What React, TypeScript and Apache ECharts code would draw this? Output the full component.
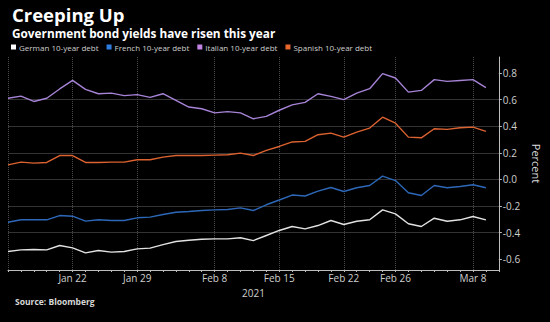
import React, { useEffect, useRef } from "react";
import * as echarts from "echarts";

const dates = [
  "2021-01-15", "2021-01-18", "2021-01-19", "2021-01-20", "2021-01-21", "2021-01-22",
  "2021-01-25", "2021-01-26", "2021-01-27", "2021-01-28", "2021-01-29",
  "2021-02-01", "2021-02-02", "2021-02-03", "2021-02-04", "2021-02-05",
  "2021-02-08", "2021-02-09", "2021-02-10", "2021-02-11", "2021-02-12",
  "2021-02-15", "2021-02-16", "2021-02-17", "2021-02-18", "2021-02-19",
  "2021-02-22", "2021-02-23", "2021-02-24", "2021-02-25", "2021-02-26",
  "2021-03-01", "2021-03-02", "2021-03-03", "2021-03-04", "2021-03-05",
  "2021-03-08", "2021-03-09", "2021-03-10",
];

const labelDates = ["2021-01-22", "2021-01-29", "2021-02-08", "2021-02-15", "2021-02-22", "2021-02-26", "2021-03-08"];
const gridDates = ["2021-01-15", ...labelDates];

const german = [
  -0.541, -0.529, -0.526, -0.529, -0.496, -0.514, -0.551, -0.534, -0.546, -0.541, -0.521,
  -0.516, -0.489, -0.466, -0.456, -0.449, -0.446, -0.446, -0.438, -0.459, -0.421,
  -0.383, -0.353, -0.371, -0.346, -0.308, -0.338, -0.314, -0.303, -0.228, -0.258,
  -0.333, -0.353, -0.291, -0.314, -0.303, -0.278, -0.303,
];
const french = [
  -0.321, -0.303, -0.303, -0.303, -0.271, -0.276, -0.313, -0.303, -0.308, -0.308, -0.288,
  -0.283, -0.263, -0.246, -0.241, -0.233, -0.228, -0.226, -0.213, -0.233, -0.19,
  -0.154, -0.117, -0.124, -0.088, -0.06, -0.09, -0.062, -0.045, 0.025, -0.008,
  -0.1, -0.12, -0.045, -0.062, -0.053, -0.04, -0.062,
];
const italian = [
  0.61, 0.626, 0.586, 0.61, 0.68, 0.744, 0.677, 0.644, 0.649, 0.63, 0.637,
  0.617, 0.644, 0.594, 0.544, 0.531, 0.5, 0.51, 0.5, 0.456, 0.474,
  0.52, 0.56, 0.579, 0.644, 0.624, 0.6, 0.649, 0.682, 0.795, 0.762,
  0.656, 0.669, 0.75, 0.737, 0.744, 0.75, 0.69,
];
const spanish = [
  0.11, 0.13, 0.123, 0.128, 0.18, 0.18, 0.128, 0.128, 0.13, 0.13, 0.148,
  0.148, 0.168, 0.18, 0.18, 0.18, 0.183, 0.186, 0.198, 0.18, 0.218,
  0.248, 0.282, 0.286, 0.336, 0.348, 0.318, 0.356, 0.386, 0.468, 0.423,
  0.318, 0.313, 0.381, 0.376, 0.389, 0.393, 0.361,
];

const yTicks = [-0.6, -0.4, -0.2, 0, 0.2, 0.4, 0.6, 0.8];
const monthNames = ["Jan", "Feb", "Mar", "Apr", "May", "Jun", "Jul", "Aug", "Sep", "Oct", "Nov", "Dec"];

const seriesDefs = [
  { name: "German 10-year debt", data: german, line: "#e2e2e2", icon: "#ffffff" },
  { name: "French 10-year debt", data: french, line: "#2d68b8", icon: "#2f7de0" },
  { name: "Italian 10-year debt", data: italian, line: "#a683d6", icon: "#c484e6" },
  { name: "Spanish 10-year debt", data: spanish, line: "#dc6230", icon: "#e8672c" },
];

const FONT = "Open Sans";

export default function App() {
  const ref = useRef<HTMLDivElement>(null);
  useEffect(() => {
    if (!ref.current) return;
    const chart = echarts.init(ref.current, null, { renderer: "svg" });
    chart.setOption({
      animation: false,
      backgroundColor: "#000000",
      textStyle: { fontFamily: FONT },
      title: [
        {
          text: "Creeping Up",
          left: 7,
          top: 0,
          textStyle: { color: "#ffffff", fontSize: 18.5, fontWeight: "bold", fontFamily: FONT },
        },
        {
          text: "Government bond yields have risen this year",
          left: 7,
          top: 22,
          textStyle: { color: "#ffffff", fontSize: 11.8, fontWeight: "bold", fontFamily: FONT },
        },
        {
          text: "Source: Bloomberg",
          left: 10,
          top: 292,
          textStyle: { color: "#d8d8d8", fontSize: 8.5, fontWeight: "bold", fontFamily: FONT },
        },
      ],
      legend: {
        left: 11,
        top: 43,
        icon: "rect",
        itemWidth: 5,
        itemHeight: 5,
        itemGap: 8,
        padding: 0,
        textStyle: { color: "#cfcfcf", fontSize: 8, fontFamily: FONT, padding: [0, 0, 0, -2] },
        data: seriesDefs.map((s) => ({ name: s.name, itemStyle: { color: s.icon } })),
      },
      grid: { left: 8, right: 46, top: 57, bottom: 52, containLabel: false },
      xAxis: {
        type: "category",
        data: dates,
        boundaryGap: false,
        name: "2021",
        nameLocation: "middle",
        nameGap: 11,
        nameTextStyle: { color: "#cfcfcf", fontSize: 10, fontFamily: FONT },
        axisLine: { onZero: false, lineStyle: { color: "#bdbdbd", width: 1 } },
        axisTick: { show: true, interval: 0, length: 2, lineStyle: { color: "#bdbdbd" } },
        axisLabel: {
          color: "#cfcfcf",
          fontSize: 10,
          fontFamily: FONT,
          margin: 3,
          interval: (_i: number, v: string) => labelDates.includes(v),
          formatter: (v: string) => {
            const d = new Date(v + "T00:00:00");
            return monthNames[d.getMonth()] + " " + d.getDate();
          },
        },
        splitLine: {
          show: true,
          interval: (_i: number, v: string) => gridDates.includes(v),
          lineStyle: { color: "#4a4a4a", type: "dotted", width: 1 },
        },
      },
      yAxis: {
        type: "value",
        position: "right",
        min: -0.68,
        max: 0.92,
        splitNumber: 8,
        name: "Percent",
        nameLocation: "middle",
        nameRotate: -90,
        nameGap: 28,
        nameTextStyle: { color: "#dcdcdc", fontSize: 11, fontFamily: FONT },
        axisLine: { show: true, lineStyle: { color: "#bdbdbd", width: 1 } },
        axisTick: { show: true, length: 3, customValues: yTicks, lineStyle: { color: "#bdbdbd" } },
        axisLabel: {
          color: "#cfcfcf",
          fontSize: 10,
          fontFamily: FONT,
          margin: 4,
          customValues: yTicks,
          formatter: (v: number) => v.toFixed(1),
        },
        splitLine: {
          show: true,
          showMinLine: false,
          showMaxLine: false,
          lineStyle: { color: "#333333", width: 1 },
        },
      },
      series: seriesDefs.map((s) => ({
        name: s.name,
        type: "line",
        data: s.data,
        symbol: "none",
        lineStyle: { color: s.line, width: 1.4 },
        itemStyle: { color: s.icon },
      })),
    });
    return () => chart.dispose();
  }, []);
  return <div ref={ref} style={{ width: 550, height: 322, position: "fixed", left: 0, top: 0 }} />;
}
